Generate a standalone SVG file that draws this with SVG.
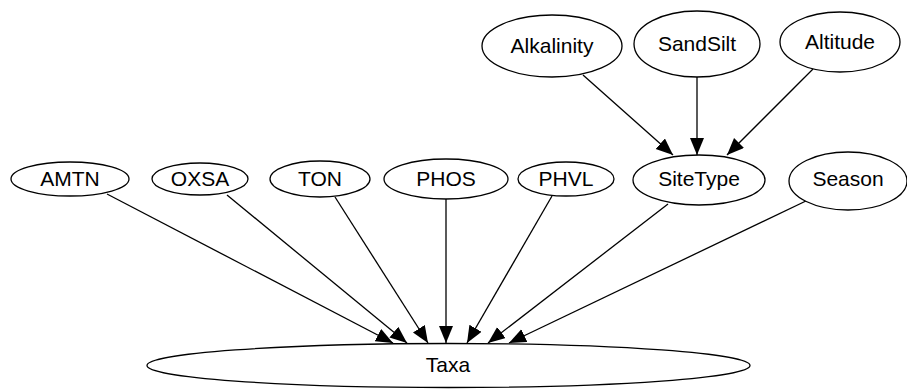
<svg xmlns="http://www.w3.org/2000/svg" width="907" height="389" viewBox="0 0 907 389">
<defs>
<style>
.n ellipse{fill:#fff;stroke:#000;stroke-width:1.3}
.n text{font-family:"Liberation Sans",Arial,sans-serif;font-size:21px;fill:#000;text-anchor:middle}
.e line{stroke:#000;stroke-width:1.3;marker-end:url(#ah)}
</style>
<marker id="ah" markerUnits="userSpaceOnUse" markerWidth="18" markerHeight="16" refX="17" refY="7" orient="auto">
<path d="M0,0 L17,7 L0,14 Z" fill="#000"/>
</marker>
</defs>
<rect width="907" height="389" fill="#fff"/>
<g id="edges" class="e">
<line x1="583" y1="75" x2="673" y2="155"/>
<line x1="697" y1="77" x2="697" y2="155"/>
<line x1="813" y1="69" x2="727" y2="155"/>
<line x1="107" y1="194" x2="393" y2="343"/>
<line x1="227" y1="195" x2="407" y2="343"/>
<line x1="335" y1="197" x2="428" y2="343"/>
<line x1="446" y1="199" x2="446" y2="343"/>
<line x1="552" y1="196" x2="467" y2="343"/>
<line x1="668" y1="204" x2="488" y2="343"/>
<line x1="808" y1="200" x2="509" y2="343"/>
</g>
<g id="Alkalinity" class="n"><ellipse cx="552" cy="46" rx="70" ry="31"/><text x="552" y="53">Alkalinity</text></g>
<g id="SandSilt" class="n"><ellipse cx="697" cy="44" rx="63" ry="33"/><text x="697" y="51">SandSilt</text></g>
<g id="Altitude" class="n"><ellipse cx="840" cy="42" rx="60" ry="30"/><text x="840" y="49">Altitude</text></g>
<g id="AMTN" class="n"><ellipse cx="70" cy="179" rx="59" ry="17"/><text x="70" y="186">AMTN</text></g>
<g id="OXSA" class="n"><ellipse cx="200" cy="179" rx="48" ry="16"/><text x="200" y="186">OXSA</text></g>
<g id="TON" class="n"><ellipse cx="320" cy="179" rx="50" ry="18"/><text x="320" y="186">TON</text></g>
<g id="PHOS" class="n"><ellipse cx="446" cy="179" rx="62" ry="20"/><text x="446" y="186">PHOS</text></g>
<g id="PHVL" class="n"><ellipse cx="566" cy="179" rx="48" ry="17"/><text x="566" y="186">PHVL</text></g>
<g id="SiteType" class="n"><ellipse cx="699" cy="180" rx="66" ry="25"/><text x="699" y="186">SiteType</text></g>
<g id="Season" class="n"><ellipse cx="848" cy="181" rx="59" ry="29"/><text x="848" y="186">Season</text></g>
<g id="Taxa" class="n"><ellipse cx="448.5" cy="365.5" rx="301.5" ry="22"/><text x="448" y="372">Taxa</text></g>
</svg>
